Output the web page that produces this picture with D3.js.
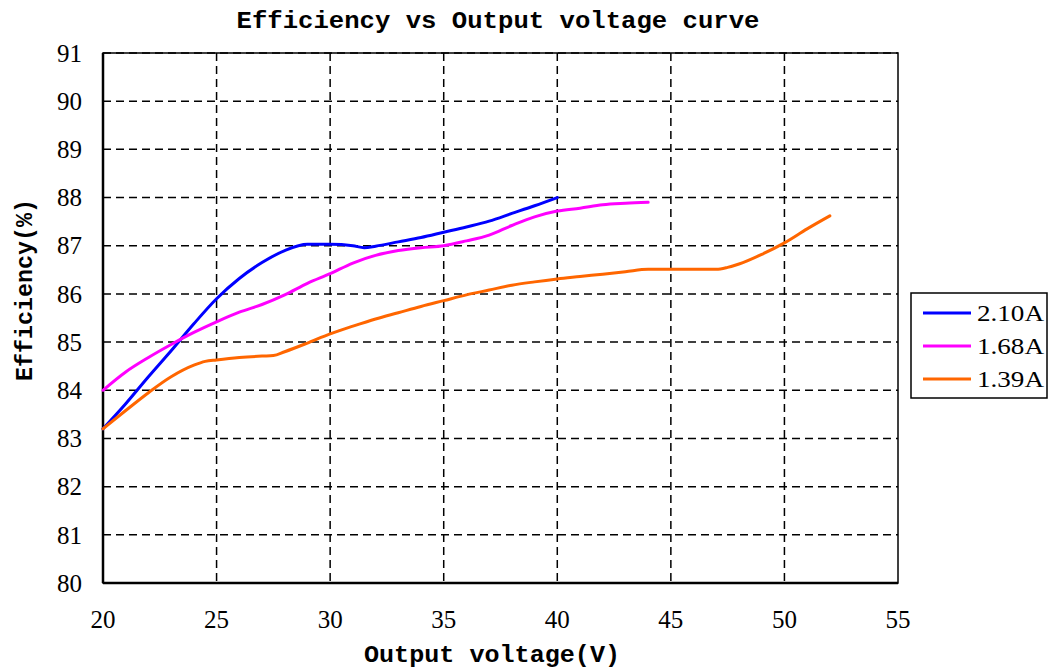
<!DOCTYPE html>
<html><head><meta charset="utf-8">
<script src="https://cdn.jsdelivr.net/npm/d3@7"></script>
<style>body{margin:0;background:#fff}</style>
</head><body>
<script>
const xTicks = [20,25,30,35,40,45,50,55];
const yTicks = [80,81,82,83,84,85,86,87,88,89,90,91];
const seriesNames = ["2.10A","1.68A","1.39A"];
const seriesColors = ["#0000ff","#ff00ff","#ff6600"];
const v210 = [20,21,22,23,24,25,26,27,28,29,30,31,31.5,32,33,34,35,36,37,38,39,40];
const e210 = [83.2,83.72,84.28,84.82,85.38,85.9,86.32,86.65,86.9,87.03,87.03,87.0,86.96,86.99,87.08,87.17,87.28,87.39,87.51,87.67,87.83,88.0];
const v168 = [20,21,22,23,24,25,26,27,28,29,30,31,32,33,34,35,36,37,38,39,40,41,42,43,44];
const e168 = [84.0,84.38,84.68,84.95,85.2,85.42,85.62,85.78,85.98,86.22,86.42,86.64,86.8,86.9,86.96,87.0,87.1,87.22,87.42,87.6,87.72,87.78,87.85,87.88,87.9];
const v139 = [20,21,22,23,24,24.5,25,26,27,27.5,28,29,30,31,32,33,34,35,36,37,38,39,40,41,42,43,44,45,46,47,47.5,48,49,50,51,52];
const e139 = [83.2,83.58,83.95,84.28,84.52,84.6,84.63,84.68,84.71,84.72,84.8,84.98,85.17,85.33,85.48,85.61,85.74,85.86,85.98,86.08,86.18,86.25,86.31,86.36,86.41,86.46,86.51,86.51,86.51,86.51,86.55,86.62,86.82,87.06,87.35,87.62];

const W=1052,H=668;
const L=103,R=898,T=53,B=583;
const svg=d3.select("body").append("svg").attr("width",W).attr("height",H);
const x=d3.scaleLinear().domain([20,55]).range([L,R]);
const y=d3.scaleLinear().domain([80,91]).range([B,T]);
const serif="'Liberation Serif','DejaVu Serif',serif";
const mono="'Liberation Mono','DejaVu Sans Mono',monospace";

// grid
svg.append("g").selectAll("line").data(yTicks.slice(1)).join("line")
  .attr("x1",L).attr("x2",R).attr("y1",d=>y(d)).attr("y2",d=>y(d))
  .attr("stroke","#000").attr("stroke-width",1.5).attr("stroke-dasharray","8,5");
svg.append("g").selectAll("line").data(xTicks.slice(1,-1)).join("line")
  .attr("y1",T).attr("y2",B).attr("x1",d=>x(d)).attr("x2",d=>x(d))
  .attr("stroke","#000").attr("stroke-width",1.5).attr("stroke-dasharray","8,5");
// frame
svg.append("rect").attr("x",L).attr("y",T).attr("width",R-L).attr("height",B-T)
  .attr("fill","none").attr("stroke","#000").attr("stroke-width",1.5);
svg.append("line").attr("x1",L).attr("x2",L).attr("y1",T).attr("y2",B).attr("stroke","#000").attr("stroke-width",2.5);
svg.append("line").attr("x1",L).attr("x2",R).attr("y1",B).attr("y2",B).attr("stroke","#000").attr("stroke-width",2.5);

// tick labels
svg.append("g").selectAll("text").data(yTicks).join("text")
  .attr("x",82).attr("y",d=>y(d)).attr("dy","0.35em").attr("text-anchor","end")
  .attr("font-family",serif).attr("font-size",25).text(d=>d);
svg.append("g").selectAll("text").data(xTicks).join("text")
  .attr("x",d=>x(d)).attr("y",619).attr("dy","0.35em").attr("text-anchor","middle")
  .attr("font-family",serif).attr("font-size",25).text(d=>d);

// lines
const line=d3.line().x(d=>x(d[0])).y(d=>y(d[1])).curve(d3.curveMonotoneX);
const data=[d3.zip(v210,e210),d3.zip(v168,e168),d3.zip(v139,e139)];
data.forEach((s,i)=>{
  svg.append("path").datum(s).attr("d",line).attr("fill","none")
    .attr("stroke",seriesColors[i]).attr("stroke-width",3).attr("stroke-linecap","round");
});

// titles
svg.append("text").attr("x",498).attr("y",20).attr("dy","0.35em").attr("text-anchor","middle")
  .attr("font-family",mono).attr("font-weight","bold").attr("font-size",23)
  .attr("textLength",523).attr("lengthAdjust","spacingAndGlyphs").text("Efficiency vs Output voltage curve");
svg.append("text").attr("x",492).attr("y",654).attr("dy","0.35em").attr("text-anchor","middle")
  .attr("font-family",mono).attr("font-weight","bold").attr("font-size",23)
  .attr("textLength",256).attr("lengthAdjust","spacingAndGlyphs").text("Output voltage(V)");
svg.append("text").attr("transform","translate(24,290) rotate(-90)").attr("dy","0.35em").attr("text-anchor","middle")
  .attr("font-family",mono).attr("font-weight","bold").attr("font-size",23)
  .attr("textLength",182).attr("lengthAdjust","spacingAndGlyphs").text("Efficiency(%)");

// legend
const lg=svg.append("g");
lg.append("rect").attr("x",911).attr("y",293).attr("width",136).attr("height",105)
  .attr("fill","#fff").attr("stroke","#000").attr("stroke-width",1.5);
seriesNames.forEach((n,i)=>{
  const yy=313+i*33;
  lg.append("line").attr("x1",923).attr("x2",971).attr("y1",yy).attr("y2",yy)
    .attr("stroke",seriesColors[i]).attr("stroke-width",3);
  lg.append("text").attr("x",977).attr("y",yy).attr("dy","0.35em")
    .attr("font-family",serif).attr("font-size",24)
    .attr("textLength",67).attr("lengthAdjust","spacingAndGlyphs").text(n);
});
</script>
</body></html>
